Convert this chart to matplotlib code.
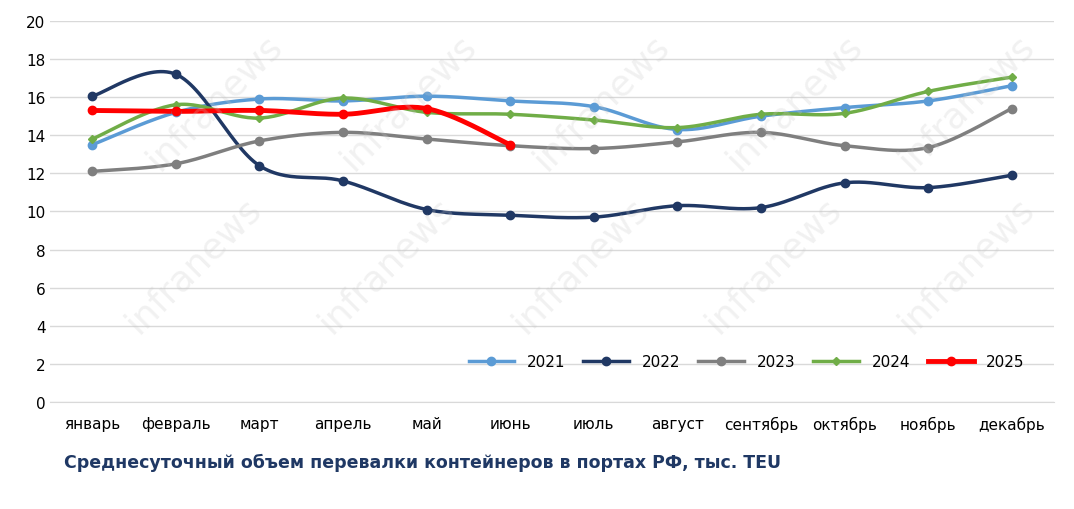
import numpy as np
import matplotlib
matplotlib.use("Agg")
import matplotlib.pyplot as plt

months = ["январь","февраль","март","апрель","май","июнь","июль","август","сентябрь","октябрь","ноябрь","декабрь"]
y2021 = [13.5,15.2,15.9,15.8,16.05,15.8,15.5,14.3,15.0,15.45,15.8,16.6]
y2022 = [16.05,17.2,12.4,11.6,10.1,9.8,9.7,10.3,10.2,11.5,11.25,11.9]
y2023 = [12.1,12.5,13.7,14.15,13.8,13.45,13.3,13.65,14.15,13.45,13.35,15.4]
y2024 = [13.8,15.6,14.9,15.95,15.2,15.1,14.8,14.4,15.1,15.15,16.3,17.05]
y2025 = [15.3,15.25,15.3,15.1,15.4,13.5]
title = "Среднесуточный объем перевалки контейнеров в портах РФ, тыс. TEU"

def smooth(x, y, n=30):
    x = np.asarray(x, float); y = np.asarray(y, float)
    px, py = [], []
    for i in range(len(x) - 1):
        p0 = (x[max(i-1,0)], y[max(i-1,0)]); p1 = (x[i], y[i])
        p2 = (x[i+1], y[i+1]); p3 = (x[min(i+2,len(x)-1)], y[min(i+2,len(x)-1)])
        c1 = (p1[0] + (p2[0]-p0[0])/6, p1[1] + (p2[1]-p0[1])/6)
        c2 = (p2[0] - (p3[0]-p1[0])/6, p2[1] - (p3[1]-p1[1])/6)
        t = np.linspace(0, 1, n)
        bx = (1-t)**3*p1[0] + 3*(1-t)**2*t*c1[0] + 3*(1-t)*t**2*c2[0] + t**3*p2[0]
        by = (1-t)**3*p1[1] + 3*(1-t)**2*t*c1[1] + 3*(1-t)*t**2*c2[1] + t**3*p2[1]
        px.extend(bx); py.extend(by)
    return px, py

fig = plt.figure(figsize=(10.74, 5.10), dpi=100)
ax = fig.add_axes([0.047, 0.21, 0.934, 0.747])

for xw, yw in [(0.18, 0.48), (0.36, 0.48), (0.54, 0.48), (0.72, 0.48), (0.90, 0.48),
               (0.20, 0.80), (0.38, 0.80), (0.56, 0.80), (0.74, 0.80), (0.90, 0.80)]:
    fig.text(xw, yw, "infranews", fontsize=26, color="#c8c8c8", alpha=0.25, rotation=45,
             ha='center', va='center', zorder=0)

series = [("2021", y2021, "#5b9bd5", 2.5, 'o'), ("2022", y2022, "#203864", 2.5, 'o'),
          ("2023", y2023, "#7f7f7f", 2.5, 'o'), ("2024", y2024, "#70ad47", 2.5, 'D'),
          ("2025", y2025, "#ff0000", 3.5, 'o')]
for name, ys, c, lw, m in series:
    xs = np.arange(len(ys))
    sx, sy = smooth(xs, ys)
    ax.plot(sx, sy, color=c, lw=lw, zorder=3)
    ax.plot(xs, ys, ls='none', marker=m, color=c, ms=6 if m == 'o' else 4.5, zorder=4)
    ax.plot([], [], color=c, lw=lw, marker=m, ms=6 if m == 'o' else 4.5, label=name)

ax.set_xlim(-0.5, 11.5)
ax.set_ylim(0, 20)
ax.set_yticks(range(0, 21, 2))
ax.set_xticks(range(12))
ax.set_xticklabels(months)
ax.grid(axis='y', color='#d9d9d9', lw=1)
ax.set_axisbelow(True)
ax.patch.set_alpha(0)
for s in ["top", "right", "left"]:
    ax.spines[s].set_visible(False)
ax.spines["bottom"].set_color("#d9d9d9")
ax.tick_params(length=0, labelsize=11, colors="#000000")
ax.tick_params(axis='x', pad=10)
ax.legend(loc="lower right", bbox_to_anchor=(0.985, 0.05), ncol=5, frameon=False,
          fontsize=11, handlelength=3, columnspacing=1.2)

fig.text(0.06, 0.082, title, fontsize=12.5, fontweight='bold', color="#1f3864")
fig.savefig("out.png", dpi=100)
